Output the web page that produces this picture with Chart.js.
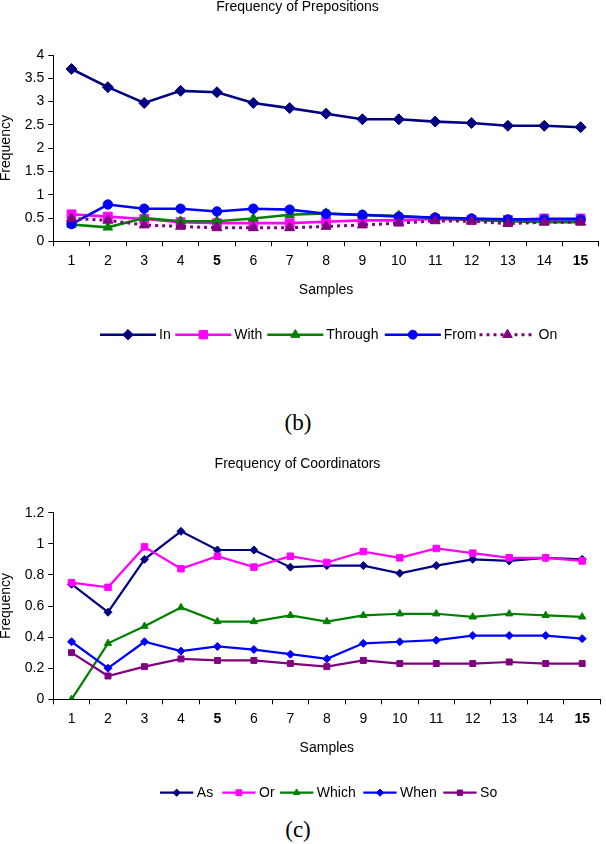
<!DOCTYPE html>
<html>
<head>
<meta charset="utf-8">
<script src="https://cdn.jsdelivr.net/npm/chart.js@4.4.1/dist/chart.umd.min.js"></script>
<style>
  html, body { margin: 0; padding: 0; background: #fff; }
  body { position: relative; width: 606px; height: 844px; overflow: hidden; }
  canvas { position: absolute; left: 0; }
  .ttl { position: absolute; left: 0; width: 595px; text-align: center;
         font: 14px Arial, "Liberation Sans", sans-serif; line-height: 16px; color: #000; }
  .cap { position: absolute; left: 0; width: 596px; text-align: center;
         font: 23px "Times New Roman", "Liberation Serif", serif; line-height: 26px; color: #000; }
</style>
</head>
<body>
<canvas id="c1" width="606" height="350" style="top:0px"></canvas>
<canvas id="c2" width="606" height="370" style="top:440px"></canvas>
<div class="ttl" style="top:-2px">Frequency of Prepositions</div>
<div class="ttl" style="top:455px">Frequency of Coordinators</div>
<div class="cap" style="top:410px">(b)</div>
<div class="cap" style="top:817px">(c)</div>
<script>
// ---------- data ----------
const samples = ['1','2','3','4','5','6','7','8','9','10','11','12','13','14','15'];

const prepIn      = [3.70, 3.31, 2.97, 3.23, 3.20, 2.97, 2.86, 2.74, 2.62, 2.62, 2.57, 2.54, 2.48, 2.48, 2.45];
const prepWith    = [0.58, 0.53, 0.48, 0.41, 0.39, 0.39, 0.39, 0.42, 0.45, 0.45, 0.48, 0.46, 0.46, 0.49, 0.49];
const prepThrough = [0.36, 0.30, 0.50, 0.43, 0.43, 0.49, 0.57, 0.60, 0.56, 0.55, 0.50, 0.46, 0.43, 0.41, 0.41];
const prepFrom    = [0.37, 0.79, 0.70, 0.70, 0.64, 0.70, 0.68, 0.59, 0.57, 0.53, 0.51, 0.49, 0.47, 0.47, 0.47];
const prepOn      = [0.49, 0.45, 0.35, 0.32, 0.29, 0.29, 0.29, 0.32, 0.35, 0.39, 0.44, 0.43, 0.38, 0.41, 0.41];

const coordAs    = [0.74, 0.56, 0.90, 1.08, 0.96, 0.96, 0.85, 0.86, 0.86, 0.81, 0.86, 0.90, 0.89, 0.91, 0.90];
const coordOr    = [0.75, 0.72, 0.98, 0.84, 0.92, 0.85, 0.92, 0.88, 0.95, 0.91, 0.97, 0.94, 0.91, 0.91, 0.89];
const coordWhich = [0.00, 0.36, 0.47, 0.59, 0.50, 0.50, 0.54, 0.50, 0.54, 0.55, 0.55, 0.53, 0.55, 0.54, 0.53];
const coordWhen  = [0.37, 0.20, 0.37, 0.31, 0.34, 0.32, 0.29, 0.26, 0.36, 0.37, 0.38, 0.41, 0.41, 0.41, 0.39];
const coordSo    = [0.30, 0.15, 0.21, 0.26, 0.25, 0.25, 0.23, 0.21, 0.25, 0.23, 0.23, 0.23, 0.24, 0.23, 0.23];

const prepYMax = 4,   prepYStep = 0.5;
const coordYMax = 1.2, coordYStep = 0.2;
const xTitle = 'Samples';
const yTitle = 'Frequency';

// ---------- styling ----------
const FONT = 'Arial, "Liberation Sans", sans-serif';
const FS = 14;
Chart.defaults.font.family = FONT;
Chart.defaults.font.size = FS;
Chart.defaults.color = '#000';

const lineLegend = {
  id: 'lineLegend',
  afterDraw(chart, args, opts) {
    const ctx = chart.ctx;
    ctx.save();
    ctx.font = FS + 'px ' + FONT;
    ctx.textBaseline = 'middle';
    ctx.textAlign = 'left';
    chart.data.datasets.forEach((ds, i) => {
      const x = opts.itemX[i], y = opts.y;
      ctx.strokeStyle = ds.borderColor;
      ctx.lineWidth = ds.borderWidth;
      ctx.setLineDash(ds.borderDash || []);
      ctx.beginPath(); ctx.moveTo(x, y); ctx.lineTo(x + opts.lineLen, y); ctx.stroke();
      ctx.setLineDash([]);
      ctx.fillStyle = ds.pointBackgroundColor;
      ctx.strokeStyle = ds.pointBorderColor;
      ctx.lineWidth = 1;
      Chart.helpers.drawPoint(ctx, {pointStyle: ds.pointStyle, radius: ds.pointRadius * opts.markerScale, rotation: 0, borderWidth: 1}, x + opts.lineLen / 2, y);
      ctx.fillStyle = '#000';
      ctx.fillText(ds.label, x + opts.lineLen + opts.textGap, y + 0.5);
    });
    ctx.restore();
  }
};

function ds(label, data, color, style, radius, width, order, dash) {
  return {
    label, data, order,
    borderColor: color, backgroundColor: color,
    pointBackgroundColor: color, pointBorderColor: color,
    pointStyle: style, pointRadius: radius, pointHoverRadius: radius,
    pointBorderWidth: 1,
    borderWidth: width, borderDash: dash || [],
    tension: 0, fill: false
  };
}

function boldTick(c) {
  const v = c.tick && c.tick.label;
  return (v === '5' || v === '15') ? {family: FONT, size: FS, weight: 'bold'} : {family: FONT, size: FS};
}

function makeOptions(cfg) {
  return {
    responsive: false,
    devicePixelRatio: 1,
    animation: false,
    events: [],
    layout: { padding: { top: cfg.padTop, right: 1, bottom: cfg.padBottom, left: 0 } },
    plugins: {
      legend: { display: false },
      title: { display: false },
      tooltip: { enabled: false },
      lineLegend: cfg.legend
    },
    scales: {
      x: {
        type: 'category',
        offset: true,
        grid: { offset: true, drawOnChartArea: false, drawTicks: true, tickLength: 5, color: '#000', lineWidth: 1 },
        border: { display: true, color: '#000', width: 1 },
        ticks: { padding: 6.5, maxRotation: 0, autoSkip: false, font: boldTick },
        title: { display: true, text: xTitle, font: {size: FS}, padding: { top: 0, bottom: cfg.xTitlePad } },
        afterFit: s => { s.height = cfg.xHeight; }
      },
      y: {
        min: 0, max: cfg.yMax,
        grid: { drawOnChartArea: false, drawTicks: true, tickLength: 5, color: '#000', lineWidth: 1 },
        border: { display: true, color: '#000', width: 1 },
        ticks: { stepSize: cfg.yStep, padding: 4, font: {size: FS},
                 callback: v => String(Math.round(v * 100) / 100) },
        title: { display: true, text: yTitle, font: {size: FS}, padding: { top: -2, bottom: 0 } },
        afterFit: s => { s.width = 53.3; }
      }
    }
  };
}

new Chart(document.getElementById('c1'), {
  type: 'line',
  data: {
    labels: samples,
    datasets: [
      ds('In',      prepIn,      '#000080', 'rectRot',  5.5, 2.6, 5),
      ds('With',    prepWith,    '#FF00FF', 'rect',     6.2, 2.6, 4),
      ds('Through', prepThrough, '#008000', 'triangle', 5.5, 2.6, 3),
      ds('From',    prepFrom,    '#0000FF', 'circle',   4.7, 2.6, 2),
      ds('On',      prepOn,      '#800080', 'triangle', 5.8, 3, 1, [3, 4])
    ]
  },
  options: makeOptions({
    padTop: 55, padBottom: 50, xHeight: 58.7, xTitlePad: 1.8,
    yMax: prepYMax, yStep: prepYStep,
    legend: { y: 334.7, lineLen: 56, textGap: 3, markerScale: 0.95, itemX: [100, 175.3, 267.3, 384.8, 479.5] }
  }),
  plugins: [lineLegend]
});

new Chart(document.getElementById('c2'), {
  type: 'line',
  data: {
    labels: samples,
    datasets: [
      ds('As',    coordAs,    '#000080', 'rectRot',  4,   2.2, 5),
      ds('Or',    coordOr,    '#FF00FF', 'rect',     4.6, 2.2, 4),
      ds('Which', coordWhich, '#008000', 'triangle', 4.2, 2.2, 3),
      ds('When',  coordWhen,  '#0000FF', 'rectRot',  4,   2.2, 2),
      ds('So',    coordSo,    '#800080', 'rect',     4.2, 2.2, 1)
    ]
  },
  options: makeOptions({
    padTop: 72.7, padBottom: 50, xHeight: 60.7, xTitlePad: 3.5,
    yMax: coordYMax, yStep: coordYStep,
    legend: { y: 352.7, lineLen: 33.3, textGap: 3.5, markerScale: 0.9, itemX: [160, 222.3, 280, 363.3, 443.3] }
  }),
  plugins: [lineLegend]
});
</script>
</body>
</html>
